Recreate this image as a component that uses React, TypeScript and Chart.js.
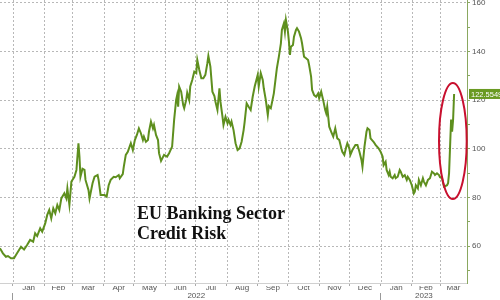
import React, { useEffect, useRef } from 'react';
import { Chart, registerables } from 'chart.js';

Chart.register(...registerables);

// Days since 2022-01-01
const dayOffsets: number[] = [
  -13, -10, -7, -5, -2, 1, 4, 8, 11, 14, 17, 20, 22, 24, 27, 29,
  32, 34, 36, 38, 40, 42, 44, 46, 48, 51, 53, 54, 56,
  58, 59, 61, 63, 65, 66, 67, 69, 71, 72, 75, 76, 79, 81, 84, 85, 87,
  89, 91, 93, 95, 97, 100, 102, 105, 106, 109, 110, 112, 114, 117, 119,
  121, 123, 125, 127, 129, 130, 132, 134, 135, 137, 139, 140, 142, 144, 145, 147, 150,
  153, 155, 158, 160, 162, 163, 164, 165, 167, 169, 170, 172, 173, 175, 176, 178,
  180, 182, 183, 185, 187, 189, 191, 193, 194, 196, 198, 200, 201, 203, 205, 206, 208, 209,
  211, 213, 214, 216, 217, 219, 221, 223, 225, 227, 229, 230, 232, 234, 236, 238, 240,
  243, 244, 246, 248, 249, 251, 253, 254, 256, 257, 259, 261, 262, 264, 266, 267, 269, 270, 271,
  273, 274, 275, 276, 278, 279, 281, 282, 284, 286, 287, 289, 291, 293, 294, 296, 297, 299, 301, 303,
  304, 306, 308, 310, 311, 312, 314, 316, 318, 320, 322, 324, 326, 327, 329, 331, 332,
  334, 335, 337, 340, 342, 344, 346, 347, 349, 351, 352, 354, 355, 358, 360, 363,
  365, 367, 368, 370, 371, 373, 374, 375, 377, 379, 380, 382, 384, 385, 387, 389, 391, 392, 394,
  396, 398, 399, 400, 402, 403, 405, 407, 408, 410, 412, 414, 416, 418, 419, 421, 423,
  424, 426, 428, 431, 432, 433, 434, 435, 436, 437, 438,
];

const creditRisk: number[] = [
  59.1, 57.0, 55.6, 55.9, 55.0, 55.0, 57.0, 59.7, 58.6, 60.4, 62.5, 61.8, 65.2, 64.1, 67.3, 65.9,
  69.3, 72.8, 74.8, 71.4, 75.5, 73.5, 76.9, 74.8, 79.6, 81.7, 79.6, 83.7, 76.9,
  86.5, 87.2, 88.5, 91.3, 102.3, 96.8, 88.5, 91.8, 91.3, 87.2, 83.0, 79.6, 85.8, 88.5, 89.2, 87.2, 81.0,
  81.0, 81.0, 80.3, 85.0, 87.2, 88.5, 88.3, 89.2, 87.9, 89.6, 92.6, 97.5, 98.8, 102.3, 99.5,
  103.6, 105.7, 108.4, 106.4, 103.6, 105.0, 102.9, 103.6, 107.0, 111.2, 108.4, 109.8, 105.7, 103.6, 98.2, 95.0, 97.5,
  96.8, 98.2, 100.9, 111.9, 120.1, 122.1, 117.3, 125.6, 123.5, 118.0, 116.7, 120.1, 123.1, 120.1, 125.6, 128.3,
  131.7, 131.1, 136.5, 132.4, 129.0, 129.0, 130.4, 135.2, 138.2, 133.8, 123.5, 121.7, 119.4, 116.0, 124.9, 119.4, 113.2, 109.8,
  113.2, 110.5, 111.9, 109.8, 111.2, 107.7, 102.3, 99.5, 100.2, 102.9, 107.7, 111.0, 118.7, 117.3, 116.0, 121.4, 125.6,
  130.4, 125.6, 131.1, 128.3, 124.9, 120.1, 113.9, 117.6, 116.7, 118.7, 122.8, 129.7, 133.1, 137.9, 143.4, 148.9, 151.6, 148.2, 153.0,
  148.2, 144.1, 138.6, 142.0, 142.7, 146.1, 148.9, 149.6, 148.2, 145.5, 143.4, 137.9, 137.2, 136.5, 134.5, 129.7, 124.2, 122.1, 121.4, 122.8,
  120.8, 123.5, 120.0, 116.0, 114.6, 117.3, 109.1, 107.0, 105.0, 108.4, 104.3, 103.6, 100.2, 98.8, 97.5, 100.9, 102.3,
  100.2, 97.5, 99.5, 101.6, 101.6, 98.8, 95.4, 92.6, 100.9, 107.0, 108.4, 107.7, 104.3, 102.9, 101.6, 100.2,
  98.8, 96.8, 93.3, 94.7, 91.3, 89.2, 90.6, 88.5, 87.9, 89.2, 87.9, 88.5, 91.3, 90.6, 88.5, 89.2, 87.2, 88.5, 87.2,
  85.0, 81.7, 82.4, 85.0, 83.7, 87.2, 85.0, 87.9, 86.5, 85.0, 87.2, 87.9, 90.6, 89.9, 89.2, 89.9, 89.2,
  88.3, 87.9, 84.4, 85.0, 85.8, 90.0, 101.0, 112.0, 107.0, 112.0, 122.5549,
];

const monthStarts: number[] = [0, 31, 59, 90, 120, 151, 181, 212, 243, 273, 304, 334, 365, 396, 424];
const monthLabels: string[] = ['Jan', 'Feb', 'Mar', 'Apr', 'May', 'Jun', 'Jul', 'Aug', 'Sep', 'Oct', 'Nov', 'Dec', 'Jan', 'Feb', 'Mar'];
const yearStarts: number[] = [0, 365];
const yearLabels: string[] = ['2022', '2023'];
const yearLabelDays: number[] = [182, 408];
const yTickValues: number[] = [50, 60, 70, 80, 90, 100, 110, 120, 130, 140, 150, 160];
const yLabelValues: number[] = [60, 80, 100, 120, 140, 160];

const X_MIN = -12.9;
const X_MAX = 450.8;
const Y_MIN = 44.8;
const Y_MAX = 161.2;

// highlighted area (ellipse) in data units
const highlightDays: number[] = [423, 450.5];
const highlightValues: number[] = [79.3, 127.1];

const titleLines: string[] = ['EU Banking Sector', 'Credit Risk'];

const LINE_COLOR = '#5e8f1e';
const GRID_COLOR = '#b8b8b8';
const AXIS_COLOR = '#8aa860';
const TEXT_COLOR = '#555555';
const CLEAR = 'rgba(0,0,0,0)';
const FONT = { family: '"Liberation Sans", Arial, sans-serif', size: 8, lineHeight: 1 };

const monthMids: number[] = monthStarts.map((s, i) => (s + (i + 1 < monthStarts.length ? monthStarts[i + 1] : X_MAX)) / 2);

type YearTick = { value: number; label: string };
const yearTicks: YearTick[] = [
  ...yearStarts.map((s) => ({ value: s, label: '' })),
  ...yearLabelDays.map((d, i) => ({ value: d, label: yearLabels[i] })),
].sort((a, b) => a.value - b.value);

const isYearStart = (c: any) => !!(c && c.tick && yearStarts.includes(c.tick.value));

const overlayPlugin = {
  id: 'overlay',
  beforeDatasetsDraw(chart: any) {
    // vertical dotted grid lines at month boundaries, placed by the x scale
    const ctx = chart.ctx;
    const area = chart.chartArea;
    const x = chart.scales.x;
    ctx.save();
    ctx.fillStyle = GRID_COLOR;
    for (let i = 0; i < monthStarts.length; i++) {
      const px = Math.round(x.getPixelForValue(monthStarts[i]));
      for (let yy = Math.ceil(area.top); yy < area.bottom; yy += 4) {
        ctx.fillRect(px, yy, 1, 2);
      }
    }
    ctx.restore();
  },
  afterDatasetsDraw(chart: any) {
    const { ctx, scales } = chart;
    const x = scales.x;
    const y = scales.y;
    const l = x.getPixelForValue(highlightDays[0]);
    const r = x.getPixelForValue(highlightDays[1]);
    const t = y.getPixelForValue(highlightValues[1]);
    const b = y.getPixelForValue(highlightValues[0]);
    ctx.save();
    ctx.beginPath();
    ctx.ellipse((l + r) / 2, (t + b) / 2, (r - l) / 2, (b - t) / 2, 0, 0, Math.PI * 2);
    ctx.strokeStyle = '#c8102e';
    ctx.lineWidth = 2;
    ctx.stroke();
    ctx.restore();
  },
  afterDraw(chart: any) {
    const { ctx, scales } = chart;
    const y = scales.y;
    const last = creditRisk[creditRisk.length - 1];
    const py = y.getPixelForValue(last);
    const bx = y.left + 2;
    ctx.save();
    ctx.fillStyle = '#6a9a22';
    ctx.fillRect(bx, py - 5, chart.width - bx, 10);
    ctx.fillStyle = '#ffffff';
    ctx.font = '7.5px "Liberation Sans", Arial, sans-serif';
    ctx.textAlign = 'left';
    ctx.textBaseline = 'middle';
    ctx.fillText(String(last), bx + 2, py + 0.5);
    // title
    ctx.fillStyle = '#111111';
    ctx.font = 'bold 18px "Liberation Serif", "Times New Roman", serif';
    ctx.textBaseline = 'alphabetic';
    ctx.fillText(titleLines[0], 137, 219);
    ctx.fillText(titleLines[1], 137, 239);
    ctx.restore();
  },
};

export default function App() {
  const canvasRef = useRef<HTMLCanvasElement | null>(null);

  useEffect(() => {
    if (!canvasRef.current) return;
    const chart = new Chart(canvasRef.current, {
      type: 'line',
      data: {
        datasets: [
          {
            label: 'EU Banking Sector Credit Risk',
            data: dayOffsets.map((d, i) => ({ x: d, y: creditRisk[i] })),
            borderColor: LINE_COLOR,
            borderWidth: 2,
            pointRadius: 0,
            tension: 0,
            fill: false,
            xAxisID: 'x',
            yAxisID: 'y',
          },
        ],
      },
      options: {
        animation: false,
        responsive: false,
        maintainAspectRatio: false,
        layout: { padding: 0 },
        plugins: { legend: { display: false }, tooltip: { enabled: false }, title: { display: false } },
        scales: {
          // month boundaries: tick marks under the axis
          x: {
            type: 'linear',
            position: 'bottom',
            weight: 0,
            min: X_MIN,
            max: X_MAX,
            afterBuildTicks: (s: any) => {
              s.ticks = monthStarts.map((v) => ({ value: v }));
            },
            afterFit: (s: any) => {
              s.height = 3;
              s.paddingLeft = 0;
              s.paddingRight = 0;
            },
            grid: {
              display: true,
              drawOnChartArea: false,
              drawTicks: true,
              color: GRID_COLOR,
              tickColor: '#aaaaaa',
              tickLength: 3,
              lineWidth: 1,
            },
            border: { display: true, color: '#d0d0d0' },
            ticks: { display: false, autoSkip: false },
          },
          // month labels
          xMonth: {
            type: 'linear',
            position: 'bottom',
            weight: 1,
            min: X_MIN,
            max: X_MAX,
            afterBuildTicks: (s: any) => {
              s.ticks = monthMids.map((v) => ({ value: v }));
            },
            afterFit: (s: any) => {
              s.height = 7;
              s.paddingLeft = 0;
              s.paddingRight = 0;
            },
            grid: { display: false, drawTicks: false },
            border: { display: false },
            ticks: {
              autoSkip: false,
              maxRotation: 0,
              minRotation: 0,
              padding: -2,
              font: FONT,
              color: TEXT_COLOR,
              callback: (_v: any, i: number) => monthLabels[i] || '',
            },
          },
          xYear: {
            type: 'linear',
            position: 'bottom',
            weight: 2,
            min: X_MIN,
            max: X_MAX,
            afterBuildTicks: (s: any) => {
              s.ticks = yearTicks.map((t) => ({ value: t.value }));
            },
            afterFit: (s: any) => {
              s.height = 7;
              s.paddingLeft = 0;
              s.paddingRight = 0;
            },
            grid: {
              drawOnChartArea: false,
              drawTicks: true,
              tickLength: 8,
              color: CLEAR,
              tickColor: (c: any) => (isYearStart(c) ? '#999999' : CLEAR),
            },
            border: { display: false },
            ticks: {
              autoSkip: false,
              maxRotation: 0,
              minRotation: 0,
              padding: -9,
              font: FONT,
              color: TEXT_COLOR,
              callback: (_v: any, i: number) => (yearTicks[i] ? yearTicks[i].label : ''),
            },
          },
          y: {
            type: 'linear',
            position: 'right',
            min: Y_MIN,
            max: Y_MAX,
            afterBuildTicks: (s: any) => {
              s.ticks = yTickValues.map((v) => ({ value: v }));
            },
            afterFit: (s: any) => {
              s.width = 33;
              s.paddingTop = 0;
              s.paddingBottom = 0;
            },
            grid: {
              color: (c: any) => (c.tick && yLabelValues.includes(c.tick.value) ? GRID_COLOR : CLEAR),
              tickColor: AXIS_COLOR,
              tickLength: 3,
              lineWidth: 1,
            },
            border: { display: true, color: AXIS_COLOR, dash: [2, 2] },
            ticks: {
              autoSkip: false,
              padding: 2,
              font: FONT,
              color: TEXT_COLOR,
              callback: (v: any) => (yLabelValues.includes(v) ? String(v) : ''),
            },
          },
        },
      },
      plugins: [overlayPlugin],
    } as any);
    return () => chart.destroy();
  }, []);

  return (
    <div style={{ position: 'absolute', left: 0, top: 0, width: 500, height: 300, background: '#ffffff' }}>
      <canvas ref={canvasRef} width={500} height={300} />
    </div>
  );
}
